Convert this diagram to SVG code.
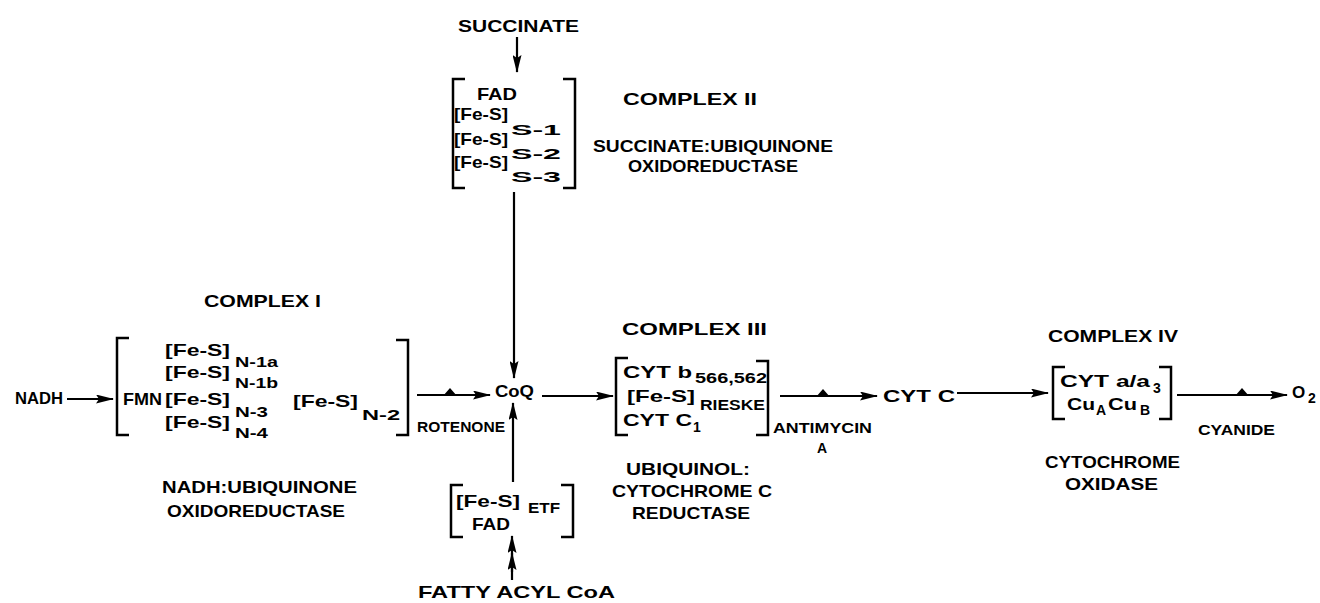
<svg xmlns="http://www.w3.org/2000/svg" width="1320" height="603" viewBox="0 0 1320 603">
<style>
text{font-family:"Liberation Sans","DejaVu Sans",sans-serif;font-weight:bold;fill:#000;}
.m{font-size:17px;}
.s{font-size:14px;}
.br{fill:none;stroke:#000;stroke-width:2.5;}
.ln{fill:none;stroke:#000;stroke-width:2.2;}
.tri{fill:#000;}
</style>
<defs>
<marker id="ah" viewBox="0 0 18 9" refX="17" refY="4.5" markerWidth="18" markerHeight="9" markerUnits="userSpaceOnUse" orient="auto">
<path d="M0,0 L18,4.5 L0,9 L3,4.5 z" fill="#000"/>
</marker>
</defs>
<rect width="1320" height="603" fill="#fff"/>

<g id="succinate">
<text class="m" x="458" y="32" textLength="121" lengthAdjust="spacingAndGlyphs">SUCCINATE</text>
</g>

<g id="complex2">
<path class="br" d="M465,79 H453 V188 H465"/>
<path class="br" d="M563,79 H575 V188 H563"/>
<text class="m" x="477" y="100" textLength="40" lengthAdjust="spacingAndGlyphs">FAD</text>
<text class="m" x="454" y="120" textLength="54" lengthAdjust="spacingAndGlyphs">[Fe-S]</text>
<text class="s" x="511" y="135" textLength="50" lengthAdjust="spacingAndGlyphs">S-1</text>
<text class="m" x="454" y="145" textLength="54" lengthAdjust="spacingAndGlyphs">[Fe-S]</text>
<text class="s" x="511" y="159" textLength="50" lengthAdjust="spacingAndGlyphs">S-2</text>
<text class="m" x="454" y="168" textLength="54" lengthAdjust="spacingAndGlyphs">[Fe-S]</text>
<text class="s" x="511" y="182" textLength="50" lengthAdjust="spacingAndGlyphs">S-3</text>
<text class="m" x="623" y="105" textLength="134" lengthAdjust="spacingAndGlyphs">COMPLEX II</text>
<text class="m" x="593" y="152" textLength="240" lengthAdjust="spacingAndGlyphs">SUCCINATE:UBIQUINONE</text>
<text class="m" x="628" y="172" textLength="170" lengthAdjust="spacingAndGlyphs">OXIDOREDUCTASE</text>
</g>

<g id="nadh">
<text class="m" x="15" y="404" textLength="48" lengthAdjust="spacingAndGlyphs">NADH</text>
</g>

<g id="complex1">
<text class="m" x="204" y="307" textLength="117" lengthAdjust="spacingAndGlyphs">COMPLEX I</text>
<path class="br" d="M129,338 H117 V435 H129"/>
<path class="br" d="M396,340 H408 V435 H396"/>
<text class="m" x="123" y="405" textLength="39" lengthAdjust="spacingAndGlyphs">FMN</text>
<text class="m" x="165" y="356" textLength="65" lengthAdjust="spacingAndGlyphs">[Fe-S]</text>
<text class="s" x="235" y="367" textLength="43" lengthAdjust="spacingAndGlyphs">N-1a</text>
<text class="m" x="165" y="378" textLength="65" lengthAdjust="spacingAndGlyphs">[Fe-S]</text>
<text class="s" x="235" y="388" textLength="43" lengthAdjust="spacingAndGlyphs">N-1b</text>
<text class="m" x="165" y="405" textLength="65" lengthAdjust="spacingAndGlyphs">[Fe-S]</text>
<text class="s" x="235" y="417" textLength="33" lengthAdjust="spacingAndGlyphs">N-3</text>
<text class="m" x="165" y="428" textLength="65" lengthAdjust="spacingAndGlyphs">[Fe-S]</text>
<text class="s" x="235" y="438" textLength="33" lengthAdjust="spacingAndGlyphs">N-4</text>
<text class="m" x="293" y="407" textLength="65" lengthAdjust="spacingAndGlyphs">[Fe-S]</text>
<text class="s" x="362" y="420" textLength="38" lengthAdjust="spacingAndGlyphs">N-2</text>
<text class="m" x="162" y="493" textLength="195" lengthAdjust="spacingAndGlyphs">NADH:UBIQUINONE</text>
<text class="m" x="167" y="517" textLength="178" lengthAdjust="spacingAndGlyphs">OXIDOREDUCTASE</text>
</g>

<g id="coq">
<text class="m" x="495" y="397" textLength="39" lengthAdjust="spacingAndGlyphs">CoQ</text>
</g>

<g id="etf">
<path class="br" d="M463,485 H451 V537 H463"/>
<path class="br" d="M561,485 H573 V537 H561"/>
<text class="m" x="456" y="507" textLength="64" lengthAdjust="spacingAndGlyphs">[Fe-S]</text>
<text class="s" x="528" y="513" textLength="32" lengthAdjust="spacingAndGlyphs">ETF</text>
<text class="m" x="472" y="530" textLength="38" lengthAdjust="spacingAndGlyphs">FAD</text>
</g>

<g id="fattyacyl">
<text class="m" x="418" y="598" textLength="197" lengthAdjust="spacingAndGlyphs">FATTY ACYL CoA</text>
</g>

<g id="complex3">
<text class="m" x="622" y="335" textLength="145" lengthAdjust="spacingAndGlyphs">COMPLEX III</text>
<path class="br" d="M628,358 H616 V435 H628"/>
<path class="br" d="M756,361 H768 V435 H756"/>
<text class="m" x="623" y="378" textLength="69" lengthAdjust="spacingAndGlyphs">CYT b</text>
<text class="s" x="695" y="383" textLength="72" lengthAdjust="spacingAndGlyphs">566,562</text>
<text class="m" x="627" y="402" textLength="68" lengthAdjust="spacingAndGlyphs">[Fe-S]</text>
<text class="s" x="700" y="410" textLength="65" lengthAdjust="spacingAndGlyphs">RIESKE</text>
<text class="m" x="623" y="426" textLength="69" lengthAdjust="spacingAndGlyphs">CYT C</text>
<text class="s" x="693" y="432">1</text>
<text class="m" x="626" y="475" textLength="124" lengthAdjust="spacingAndGlyphs">UBIQUINOL:</text>
<text class="m" x="612" y="497" textLength="160" lengthAdjust="spacingAndGlyphs">CYTOCHROME C</text>
<text class="m" x="632" y="519" textLength="118" lengthAdjust="spacingAndGlyphs">REDUCTASE</text>
</g>

<g id="cytc">
<text class="m" x="883" y="402" textLength="72" lengthAdjust="spacingAndGlyphs">CYT C</text>
</g>

<g id="complex4">
<text class="m" x="1048" y="342" textLength="130" lengthAdjust="spacingAndGlyphs">COMPLEX IV</text>
<path class="br" d="M1065,367 H1053 V419 H1065"/>
<path class="br" d="M1159,367 H1171 V419 H1159"/>
<text class="m" x="1060" y="387" textLength="90" lengthAdjust="spacingAndGlyphs">CYT a/a</text>
<text class="s" x="1153" y="393">3</text>
<text class="m" x="1067" y="410" textLength="28" lengthAdjust="spacingAndGlyphs">Cu</text>
<text class="s" x="1096" y="415">A</text>
<text class="m" x="1108" y="410" textLength="29" lengthAdjust="spacingAndGlyphs">Cu</text>
<text class="s" x="1140" y="415">B</text>
<text class="m" x="1045" y="468" textLength="135" lengthAdjust="spacingAndGlyphs">CYTOCHROME</text>
<text class="m" x="1065" y="490" textLength="93" lengthAdjust="spacingAndGlyphs">OXIDASE</text>
</g>

<g id="o2">
<text class="m" x="1292" y="398">O</text>
<text class="s" x="1308" y="403">2</text>
</g>

<g id="connectors">
<line class="ln" x1="517" y1="37" x2="517" y2="72" marker-end="url(#ah)"/>
<line class="ln" x1="67" y1="399" x2="113" y2="399" marker-end="url(#ah)"/>
<line class="ln" x1="514" y1="192" x2="514" y2="378" marker-end="url(#ah)"/>
<line class="ln" x1="417" y1="395" x2="490" y2="395" marker-end="url(#ah)"/>
<polygon class="tri" points="443,396 457,396 450,388"/>
<text class="s" x="417" y="432" textLength="88" lengthAdjust="spacingAndGlyphs">ROTENONE</text>
<line class="ln" x1="513" y1="482" x2="513" y2="403" marker-end="url(#ah)"/>
<line class="ln" x1="512" y1="580" x2="512" y2="536" marker-end="url(#ah)"/>
<line class="ln" x1="512" y1="572" x2="512" y2="553" marker-end="url(#ah)"/>
<line class="ln" x1="542" y1="396" x2="613" y2="396" marker-end="url(#ah)"/>
<line class="ln" x1="780" y1="396" x2="877" y2="396" marker-end="url(#ah)"/>
<polygon class="tri" points="816,397 830,397 823,389"/>
<text class="s" x="773" y="433" textLength="99" lengthAdjust="spacingAndGlyphs">ANTIMYCIN</text>
<text class="s" x="817" y="453">A</text>
<line class="ln" x1="957" y1="393" x2="1048" y2="393" marker-end="url(#ah)"/>
<line class="ln" x1="1177" y1="395" x2="1287" y2="395" marker-end="url(#ah)"/>
<polygon class="tri" points="1235,396 1249,396 1242,388"/>
<text class="s" x="1198" y="435" textLength="77" lengthAdjust="spacingAndGlyphs">CYANIDE</text>
</g>
</svg>
